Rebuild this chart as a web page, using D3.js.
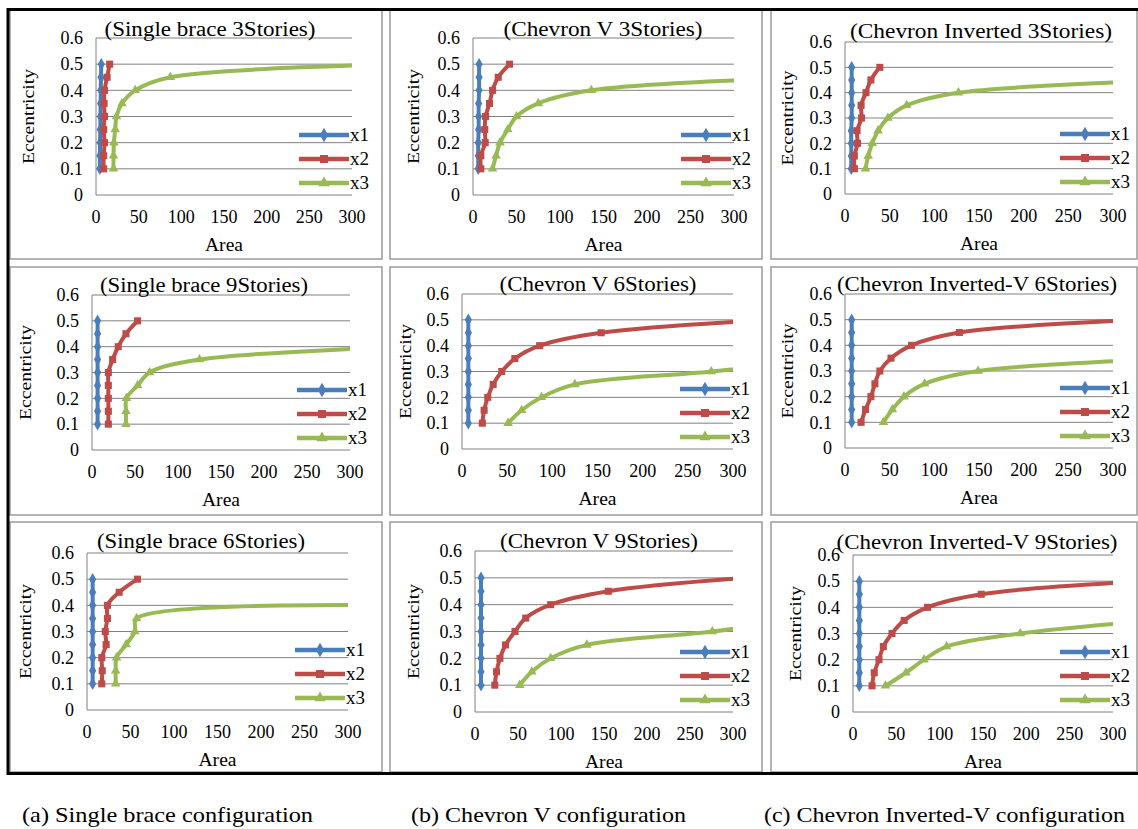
<!DOCTYPE html>
<html>
<head>
<meta charset="utf-8">
<script src="https://cdn.jsdelivr.net/npm/d3@7"></script>
<style>
body{margin:0;background:#fff;}
svg text{font-family:"Liberation Serif","Times New Roman",Tinos,Times,serif;fill:#000;}
</style>
</head>
<body>
<script>
// eccentricity values shared by every series (y)
var ecc = [0.1, 0.15, 0.2, 0.25, 0.3, 0.35, 0.4, 0.45, 0.5];

var titles = ["(Single brace 3Stories)", "(Chevron V 3Stories)", "(Chevron Inverted 3Stories)",
              "(Single brace 9Stories)", "(Chevron V 6Stories)", "(Chevron Inverted-V 6Stories)",
              "(Single brace 6Stories)", "(Chevron V 9Stories)", "(Chevron Inverted-V 9Stories)"];

// area values (x), one row per panel; x3 stops at its first point past the axis max
var x1Area = [[4.5,4.6,4.8,5,5.2,5.4,5.6,5.8,6.2],
              [6,6,6,6.5,6.5,6.5,7,7,7],
              [7,7,7,7,7.5,7.5,7.5,7.5,7.5],
              [6.5,6.5,6.5,6.5,6.5,6.5,6.5,6.5,6.5],
              [7,7,7,7,7,7,7,7,7],
              [7.5,7.5,7.5,7.5,7.5,7.5,7.5,7.5,7.5],
              [6.5,6.5,6.5,6.5,6.5,6.5,6.5,6.5,6.5],
              [7,7,7,7,7,7,7,7,7],
              [7.3,7.3,7.3,7.3,7.3,7.3,7.3,7.3,7.3]];
var x2Area = [[9,9,10,9,10,9.5,10,13,16],
              [9,9,14,13.5,14.5,19,22.5,29,42],
              [10.5,10.5,14,13.5,18.5,18,23.5,29,39],
              [19,19,19,19,19,24,30.5,39.5,53],
              [22.5,24.5,28.5,34.5,44,58.5,86,154,340],
              [18,23,29,33.5,39,51.5,74.5,128,330],
              [17,17.5,17,22,21,23.5,23.5,37,58],
              [23,25,29,35.5,46.5,59,88,155,315],
              [22,24.5,30,35,45,59,86,148,340]];
var x3Area = [[20.5,20.5,21,22.5,24,30.5,46,87,355],
              [22.5,26.5,31,40,50,75,136,390],
              [23,26,30.5,37,48,69,127,380],
              [39.5,39.5,40,53,67,125,370],
              [51,66,88,125,276,400],
              [43,53,66,89,149,380],
              [33,33,34,45,55,57,370],
              [52,66,88,130,276,390],
              [37.5,61,82,108,193,350]];

var seriesNames = ["x1", "x2", "x3"];
var seriesColors = ["#4a7ebb", "#be4b48", "#98b954"];
var xTicks = [0, 50, 100, 150, 200, 250, 300];
var yTicks = [0, 0.1, 0.2, 0.3, 0.4, 0.5, 0.6];
var captions = ["(a) Single brace configuration", "(b) Chevron V configuration", "(c) Chevron Inverted-V configuration"];

// layout of each panel (cell box, plot box, title and axis label spots)
var boxes = [
  {cx:10,  cy:10,  cw:372, ch:249, l:96,  r:352,  t:38,  b:195, tx:210, ty:36,  tw:211, lx:28},
  {cx:390, cy:10,  cw:372, ch:249, l:473, r:734,  t:38,  b:195, tx:603, ty:36,  tw:199, lx:413},
  {cx:771, cy:10,  cw:366, ch:249, l:845, r:1113, t:42,  b:194, tx:981, ty:38,  tw:262, lx:787},
  {cx:10,  cy:267, cw:372, ch:248, l:92,  r:350,  t:295, b:450, tx:204, ty:292, tw:208, lx:25},
  {cx:390, cy:267, cw:372, ch:248, l:462, r:733,  t:294, b:449, tx:598, ty:291, tw:197, lx:405},
  {cx:771, cy:267, cw:366, ch:248, l:845, r:1113, t:294, b:448, tx:977, ty:291, tw:280, lx:787},
  {cx:10,  cy:522, cw:372, ch:250, l:87,  r:348,  t:553, b:710, tx:201, ty:548, tw:208, lx:25},
  {cx:390, cy:522, cw:372, ch:250, l:475, r:733,  t:551, b:712, tx:599, ty:548, tw:198, lx:413},
  {cx:771, cy:522, cw:366, ch:250, l:853, r:1113, t:555, b:712, tx:977, ty:549, tw:281, lx:795}
];

var width = 1138, height = 829;
var svg = d3.select("body").append("svg")
    .attr("width", width)
    .attr("height", height);

var serif = "'Liberation Serif', 'Times New Roman', Tinos, Times, serif";
var symbols = [d3.symbolDiamond, d3.symbolSquare, d3.symbolTriangle];
var symSize = [45, 50, 40];

boxes.forEach(function(bx, i){
    var g = svg.append("g").attr("font-family", serif);

    // cell border
    g.append("rect")
        .attr("x", bx.cx).attr("y", bx.cy)
        .attr("width", bx.cw).attr("height", bx.ch)
        .attr("fill", "#fff")
        .attr("stroke", "#9a9a9a")
        .attr("stroke-width", 1.5);

    var x = d3.scaleLinear().domain([0, 300]).range([bx.l, bx.r]);
    var y = d3.scaleLinear().domain([0, 0.6]).range([bx.b, bx.t]);

    // gridlines
    g.selectAll(".grid").data(yTicks.slice(1)).enter().append("line")
        .attr("x1", bx.l).attr("x2", bx.r)
        .attr("y1", function(d){ return y(d); })
        .attr("y2", function(d){ return y(d); })
        .attr("stroke", "#808080")
        .attr("stroke-width", 1);

    // axes lines
    g.append("line").attr("x1", bx.l).attr("x2", bx.r).attr("y1", bx.b).attr("y2", bx.b)
        .attr("stroke", "#808080");
    g.append("line").attr("x1", bx.l).attr("x2", bx.l).attr("y1", bx.t).attr("y2", bx.b)
        .attr("stroke", "#808080");

    // tick labels
    g.selectAll(".yt").data(yTicks).enter().append("text")
        .attr("x", bx.l - 13)
        .attr("y", function(d){ return y(d); })
        .attr("dy", "0.35em")
        .attr("text-anchor", "end")
        .style("font-size", "18px")
        .text(function(d){ return d === 0 ? "0" : d3.format(".1f")(d); });
    g.selectAll(".xt").data(xTicks).enter().append("text")
        .attr("x", function(d){ return x(d); })
        .attr("y", bx.b + 28)
        .attr("text-anchor", "middle")
        .style("font-size", "18px")
        .text(function(d){ return d; });

    // title and axis titles
    g.append("text")
        .attr("x", bx.tx).attr("y", bx.ty)
        .attr("text-anchor", "middle")
        .attr("textLength", bx.tw)
        .attr("lengthAdjust", "spacingAndGlyphs")
        .style("font-size", "20px")
        .text(titles[i]);
    g.append("text")
        .attr("x", (bx.l + bx.r) / 2).attr("y", bx.b + 56)
        .attr("text-anchor", "middle")
        .attr("textLength", 38)
        .attr("lengthAdjust", "spacingAndGlyphs")
        .style("font-size", "19px")
        .text("Area");
    g.append("text")
        .attr("transform", "translate(" + bx.lx + "," + ((bx.t + bx.b) / 2) + ") rotate(-90)")
        .attr("dy", "0.35em")
        .attr("text-anchor", "middle")
        .attr("textLength", 95)
        .attr("lengthAdjust", "spacingAndGlyphs")
        .style("font-size", "17px")
        .text("Eccentricity");

    // clip to the plot area, like excel does with a fixed max
    var clipId = "clip" + i;
    svg.append("clipPath").attr("id", clipId)
        .append("rect")
        .attr("x", bx.l).attr("y", bx.t - 6)
        .attr("width", bx.r - bx.l).attr("height", bx.b - bx.t + 12);

    var plot = g.append("g").attr("clip-path", "url(#" + clipId + ")");
    var sets = [x1Area[i], x2Area[i], x3Area[i]];

    var line = d3.line()
        .x(function(d){ return x(d[0]); })
        .y(function(d){ return y(d[1]); })
        .curve(d3.curveCatmullRom.alpha(0.5));

    sets.forEach(function(vals, s){
        var pts = vals.map(function(v, k){ return [v, ecc[k]]; });
        plot.append("path")
            .attr("d", line(pts))
            .attr("fill", "none")
            .attr("stroke", seriesColors[s])
            .attr("stroke-width", 4)
            .attr("stroke-linejoin", "round");
        plot.selectAll(".m" + s).data(pts).enter().append("path")
            .attr("transform", function(d){ return "translate(" + x(d[0]) + "," + y(d[1]) + ")"; })
            .attr("d", d3.symbol().type(symbols[s]).size(symSize[s]))
            .attr("fill", seriesColors[s]);
    });

    // legend
    var rows = [bx.b - 60, bx.b - 36, bx.b - 12];
    seriesNames.forEach(function(name, s){
        g.append("line")
            .attr("x1", bx.r - 53).attr("x2", bx.r - 3)
            .attr("y1", rows[s]).attr("y2", rows[s])
            .attr("stroke", seriesColors[s])
            .attr("stroke-width", 4.5);
        g.append("path")
            .attr("transform", "translate(" + (bx.r - 28) + "," + rows[s] + ")")
            .attr("d", d3.symbol().type(symbols[s]).size(symSize[s] + 15))
            .attr("fill", seriesColors[s]);
        g.append("text")
            .attr("x", bx.r - 2).attr("y", rows[s] + 6)
            .style("font-size", "19px")
            .text(name);
    });
});

// black frame around the grid
svg.append("rect")
    .attr("x", 8).attr("y", 9.5)
    .attr("width", 1140).attr("height", 764)
    .attr("fill", "none")
    .attr("stroke", "#000")
    .attr("stroke-width", 3);

// captions under each column
var capX = [22, 411, 764], capW = [291, 275, 361];
svg.selectAll(".cap").data(captions).enter().append("text")
    .attr("font-family", serif)
    .attr("x", function(d, i){ return capX[i]; })
    .attr("y", 822)
    .attr("textLength", function(d, i){ return capW[i]; })
    .attr("lengthAdjust", "spacingAndGlyphs")
    .style("font-size", "21px")
    .text(function(d){ return d; });
</script>
</body>
</html>
